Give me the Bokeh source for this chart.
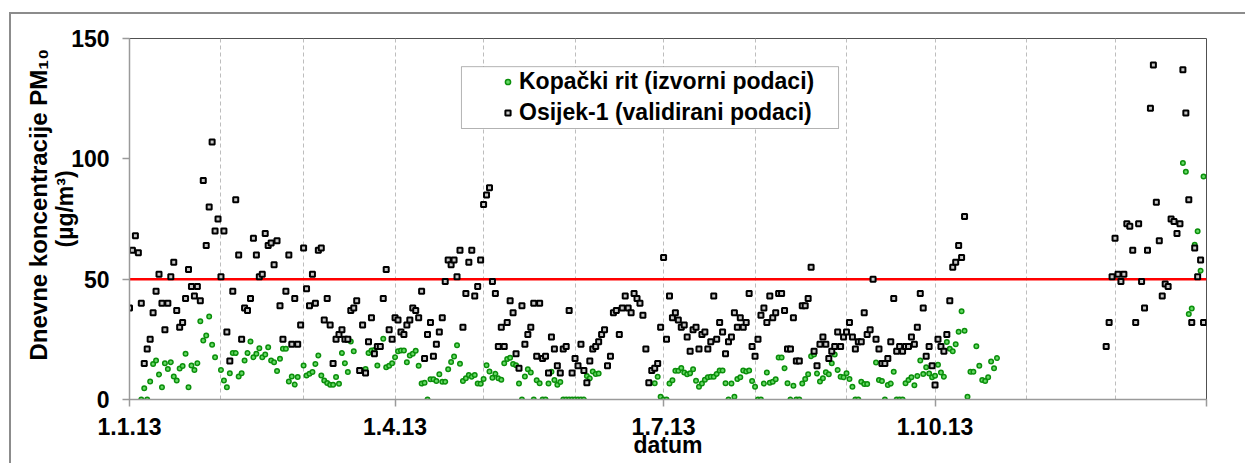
import datetime as dt
from bokeh.plotting import figure
from bokeh.models import (ColumnDataSource, FixedTicker, Legend, LegendItem,
                          BoxAnnotation, Range1d, Title)
from bokeh.embed import file_html
from bokeh.resources import INLINE

# ---------------- data ----------------
YEAR_START = dt.date(2013, 1, 1)
YEAR_END = dt.date(2014, 1, 1)

tick_dates = [dt.date(2013, 1, 1), dt.date(2013, 4, 1), dt.date(2013, 7, 1),
              dt.date(2013, 10, 1), dt.date(2014, 1, 1)]
tick_labels = ["1.1.13", "1.4.13", "1.7.13", "1.10.13", ""]
grid_dates = [dt.date(2013, m, 1) for m in range(1, 13)] + [dt.date(2014, 1, 1)]
y_ticks = [0, 50, 100, 150]
y_max = 150
limit_value = 50

series_names = ["Kopački rit (izvorni podaci)", "Osijek-1 (validirani podaci)"]
y_title = "Dnevne koncentracije PM₁₀"
y_unit = "(µg/m³)"
x_title = "datum"

# Osijek-1, daily values
osijek_start_a = dt.date(2013, 1, 1)
osijek_pm10_a = [
    38, 62, 68, 61, 40, 15, 21, 25, 36, 45,
    52, 40, 29, 40, 51, 57, 37, 30, 32, 42,
    54, 47, 43, 47, 41, 91, 64, 80, 107, 70,
    75, 51, 70, 28, 16, 45, 83, 60, 25, 38,
    37, 42, 67, 60, 51, 52, 69, 64, 65, 56,
    66, 39, 25, 45, 60, 23, 42, 23, 31, 63,
    46, 39, 52, 40, 62, 63, 33, 42, 31, 15,
    25, 27, 29, 25, 25, 37, 38, 41, 12, 31,
    11, 24, 34, 19, 22, 22, 42, 54, 29, 25,
    34, 33, 28, 27, 31, 33, 38, 37, 34, 45,
    17, 27, 32, 18, 23, 28, 34, 49, 58, 56,
    58, 51, 62, 30, 44, 57, 62, 43, 47, 58,
    81, 85, 88, 49, 44, 22, 30, 22, 32, 41,
    36, 19, 13, 39, 23, 27, 30, 40, 18, 40,
    17, 18, 11, 26, 21, 14, 11, 21, 22, 37,
    11, 17, 14, 23, 12, 7, 16, 21, 22, 24,
    27, 29, 14, 18, 36, 37, 27, 38, 43, 38,
    36, 44, 42, 40, 35, 21, 7, 12, 13, 15,
    30, 59, 25, 43, 34, 36, 33, 30, 31, 26,
    20, 29, 30, 21, 27, 28, 21, 24, 43, 25,
    32, 28, 19, 24, 26, 36, 30, 34, 30, 32,
    44, 22, 18, 25, 35, 38, 32, 43, 34, 36,
    44, 44, 37, 21, 21, 34, 16, 16, 39, 39,
    42, 55, 20, 14, 23, 26, 23, 17, 20, 22,
    28, 22, 26, 28, 32, 26, 21, 24, 24, 36,
    27, 29, 50, 25, 21, 15, 15, 17, 24, 42,
    20, 22, 20, 22, 22, 26, 23, 30, 44, 38,
    18, 22, 14, 6, 25, 22, 20, 27, 41, 55,
    57, 64, 59, 76]
osijek_start_b = dt.date(2013, 11, 28)
osijek_pm10_b = [22, 32, 51, 67, 52, 49, 52, 73, 72, 62,
                 32, 73, 49, 38, 62, 121, 139, 82, 66, 43,
                 48, 47, 75, 74, 69, 73, 137, 119, 83, 32,
                 63, 51, 58, 32]

# Kopacki rit, daily values (None = no data)
kopacki_start_a = dt.date(2013, 1, 1)
kopacki_pm10_a = [
    None, None, None, None, 0, 4.7, 0, 7.5, 14.8, 16.2,
    10.4, 5.1, 15.1, 12.7, 15.5, 9.6, 7.9, 12.9, 13.9, 19,
    5.1, 14.1, 12.3, 15.1, 32.5, 24.5, 26.6, 34.5, 22.7, 17.6,
    None, 12.3, 7.9, 5.1, 10.9, 19.3, 19.3, 9.6, 10.9, 16.2,
    19.3, 24.1, 17.6, 19, 21.3, 17.6, 18.7, 21.7, 16.2, 15.5,
    11.8, 16.9, 21.1, 21.1, 7.5, 9.6, 6.2, 9.3, None, 14.1,
    10, 10.7, 11.4, 14.8, 18.3, 10, 7.9, 6.9, 6.1, 6.1,
    9.3, 6.5, 19.3, 15.1, 11.4, 24.1, 20.1, None, None, None,
    12.7, 19.3, 20.4, 20.6, 14.1, None, 25.2, 13.4, 14, 15.1,
    17.6, 20, 20.4, 20.4, 15.5, 18.3, 19, 20.3, 14, 6.6,
    7, 0, 8.4, 8.4, 7.7, 10.5, 7.4, 7.4, 12.6, 15.6,
    17.9, 22.5, 14.9, 7.7, 8.8, 10.2, 9.5, 10.2, 6.7, 6.5,
    8.5, 14.2, 11.6, 9, 10.7, 8.8, 8.2, 15.1, 16.8, 17.3,
    14.7, 14.2, 6.6, 0, 9.6, 12.6, 11.2, 0, 8, 6.8,
    0, 0, 6.7, 11.5, 8.1, 6.1, 7.3, 0, 0, 0,
    0, 0, 0, 0, 0, 9.8, 8.8, 11.6, 10.6, 10.8]
kopacki_start_b = dt.date(2013, 6, 28)
kopacki_pm10_b = [
    6.8, 9.5, 1.1, 0, 0, 6.6, 8, 11.9, 11.9, 13.1,
    11.2, 10.5, 10.9, 12.6, 7.8, 5.3, 6.6, 8.2, 9.2, 9.5,
    9.5, 10.6, 12, 12, 6.8, 0, 6.6, 1.1, 8.5, 9.2,
    12, 11.6, 12, 7.7, 5.3, 0, 0, 6.6, 11.2, 7,
    7.4, 8.4, 17.5, 17.5, 13, 6.8, 0, 5.7, 0, 0,
    6.6, 8.5, 10.5, 18, 18.7, 10.8, 7.5, 8.8, 11.3, 10.5,
    15.1, 18.7, 12.3, 9.5, 9.2, 10.9, 8.5, 5.3, 0, 0,
    7.4, 6.4, 6.4, None, None, 15.4, 8.1, 7.7, 0, 6,
    6.6, 11.5, 0, 0, 0, 6.8, 8.1, 9.2, 5.9, 9.8,
    16.2, 10.6, 13.4, 10.8, 9.2, 9.9, 14.4, 11.2, 9.5, 23.9,
    21.1, 20, 23, 28.1, 36.7, 28.6, 1.1, 11.5, 11.5, 22.1,
    14, 8.1, 7.7, 9.2, 15.8, 13, 17.2]
kopacki_start_c = dt.date(2013, 12, 24)
kopacki_pm10_c = [98.3, 94.6, 35.5, 37.8, 64.3, 69.9, 53.5, 92.7]


# ---------------- helpers ----------------
def day(d):
    return (d - YEAR_START).days


def make_source(parts):
    xs, ys = [], []
    for start, vals in parts:
        d0 = day(start)
        for i, v in enumerate(vals):
            if v is not None:
                xs.append(d0 + i)
                ys.append(v)
    return ColumnDataSource(dict(x=xs, y=ys))


kop_src = make_source([(kopacki_start_a, kopacki_pm10_a),
                       (kopacki_start_b, kopacki_pm10_b),
                       (kopacki_start_c, kopacki_pm10_c)])
osi_src = make_source([(osijek_start_a, osijek_pm10_a),
                       (osijek_start_b, osijek_pm10_b)])

FONT = "Liberation Sans"
x_end = day(YEAR_END)

p = figure(width=1245, height=463, output_backend="svg", toolbar_location=None,
           x_range=Range1d(0, x_end), y_range=Range1d(0, y_max),
           min_border_left=129, min_border_right=39, min_border_top=38,
           min_border_bottom=64)
p.background_fill_color = "white"
p.border_fill_alpha = 0
p.outline_line_color = "#505050"
p.outline_line_width = 1
# thin grey chart-area frame (left and top edges) drawn behind the transparent border
p.styles = {"background": "linear-gradient(#8c8c8c,#8c8c8c) 9px 12px / 2px 100% no-repeat, "
                          "linear-gradient(#8c8c8c,#8c8c8c) 9px 12px / 100% 2px no-repeat, #ffffff"}

# grid
p.ygrid.visible = False
p.xgrid.ticker = FixedTicker(ticks=[day(d) for d in grid_dates])
p.xgrid.grid_line_color = "#bdbdbd"
p.xgrid.grid_line_dash = "4 3"
p.xgrid.grid_line_width = 1

# axes
for ax in (p.xaxis[0], p.yaxis[0]):
    ax.axis_line_color = "#9a9a9a"
    ax.axis_line_width = 1.5
    ax.major_tick_line_color = "#9a9a9a"
    ax.major_tick_line_width = 1.5
    ax.major_tick_out = 7
    ax.major_tick_in = 0
    ax.minor_tick_line_color = None
    ax.major_label_text_font = FONT
    ax.major_label_text_font_style = "bold"
    ax.major_label_text_font_size = "23px"
    ax.major_label_text_color = "#000000"
    ax.axis_label_text_font = FONT
    ax.axis_label_text_font_style = "bold"
    ax.axis_label_text_font_size = "23px"
    ax.axis_label_text_color = "#000000"

p.yaxis.ticker = FixedTicker(ticks=y_ticks)
p.yaxis.major_label_standoff = 13

p.xaxis.ticker = FixedTicker(ticks=[day(d) for d in tick_dates])
p.xaxis.major_label_overrides = {day(d): lab for d, lab in zip(tick_dates, tick_labels)}
p.xaxis.major_label_standoff = 11
p.xaxis.axis_label = x_title
p.xaxis.axis_label_standoff = -6

# y-axis title, two lines, placed as side titles
title_unit = Title(text=y_unit, align="left", offset=152, vertical_align="bottom",
                   standoff=-19, text_font=FONT, text_font_style="bold",
                   text_font_size="23px", text_color="#000000")
title_main = Title(text=y_title, align="left", offset=39, vertical_align="bottom",
                   standoff=16, text_font=FONT, text_font_style="bold",
                   text_font_size="24px", text_color="#000000")
p.add_layout(title_unit, "left")
p.add_layout(title_main, "left")

# limit line
p.line(x=[0, x_end], y=[limit_value, limit_value], line_color="#ff0000", line_width=2.5)

g = p.scatter("x", "y", source=kop_src, marker="circle", size=4.5,
              fill_color="#66d966", line_color="#0b8f0b", line_width=1.5)
b = p.scatter("x", "y", source=osi_src, marker="square", size=5,
              fill_color="#c8c8c8", line_color="#000000", line_width=2)

# legend frame (white box with black border)
legend_box = BoxAnnotation(left=112.5, right=240.3, bottom=112.6, top=138.3,
                           fill_color="white", fill_alpha=1.0,
                           line_color="black", line_width=1)
p.add_layout(legend_box)

legend = Legend(items=[LegendItem(label=series_names[0], renderers=[g]),
                       LegendItem(label=series_names[1], renderers=[b])],
                location=(372, 271), orientation="vertical",
                label_text_font=FONT, label_text_font_style="bold",
                label_text_font_size="23px", label_text_color="#000000",
                glyph_width=13, glyph_height=31, label_height=31,
                label_standoff=5, spacing=0, padding=0, margin=0,
                border_line_alpha=0, background_fill_alpha=0)
p.add_layout(legend)

open("out.html", "w").write(file_html(p, INLINE))
